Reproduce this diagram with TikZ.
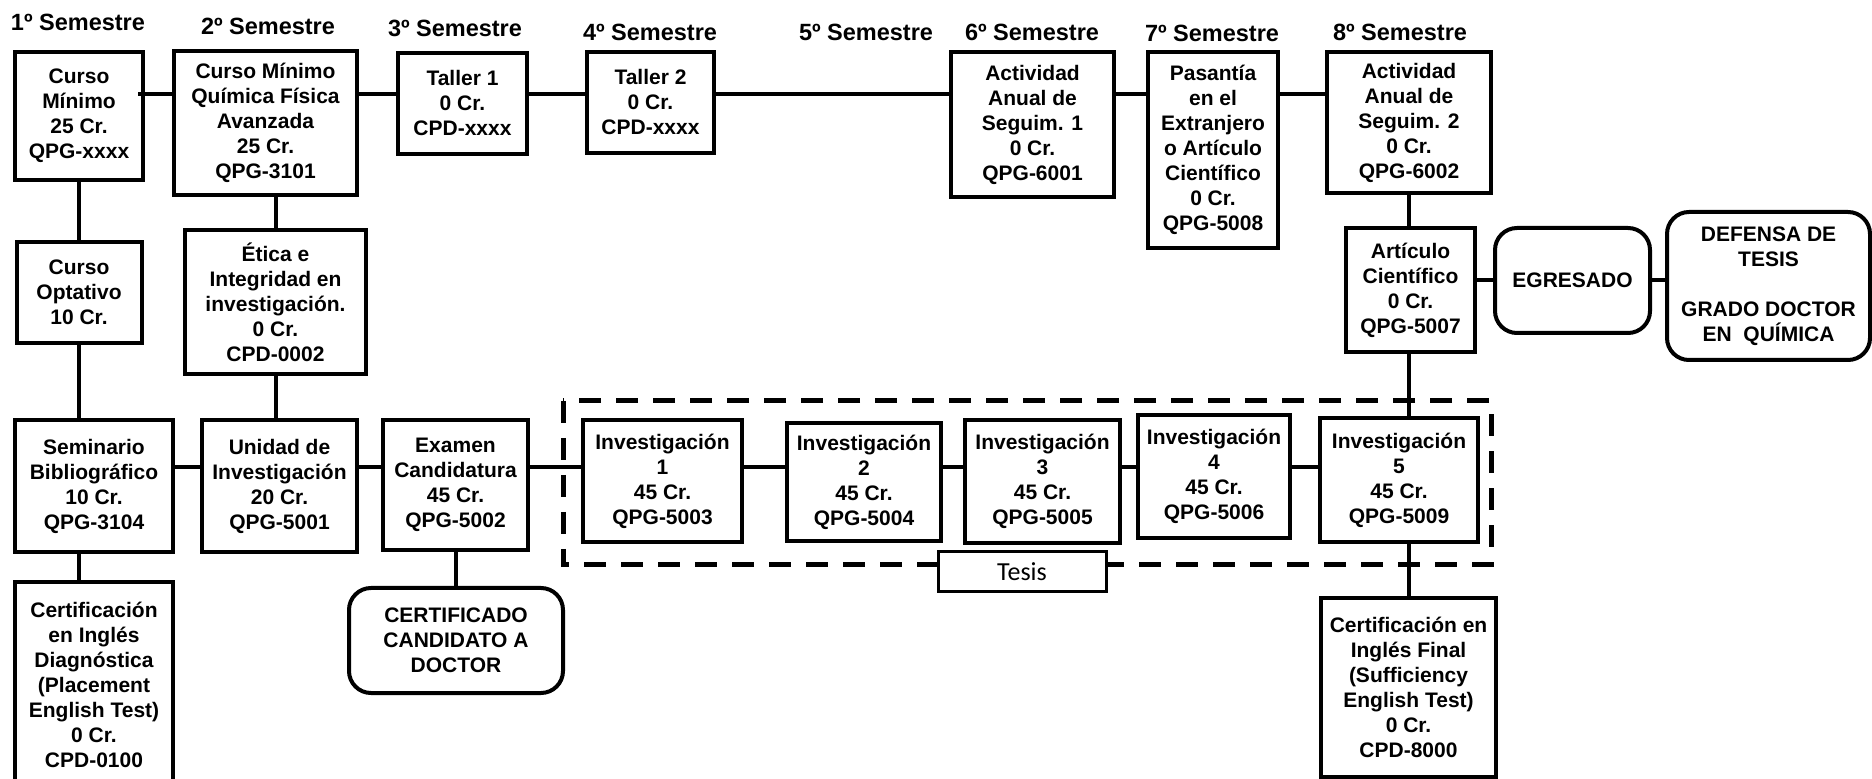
\documentclass[tikz,border=0pt]{standalone}
\usepackage{fontspec}
\setmainfont{Liberation Sans}
\newfontfamily\tesisfont{Carlito}

\tikzset{
  curso/.style={draw, line width=2pt, align=center, inner sep=0pt, fill=white,
    font=\bfseries\fontsize{10.5}{12.5}\selectfont},
  hito/.style={curso, rounded corners=11pt},
  semestre/.style={font=\bfseries\fontsize{11.75}{14}\selectfont},
  tam/.style 2 args={minimum width=#1*0.5pt, minimum height=#2*0.5pt},
  enlace/.style={line width=2pt},
}

\begin{document}
\begin{tikzpicture}[x=0.5pt, y=-0.5pt]
\useasboundingbox (0,0) rectangle (1872,779);

% Semestres
\foreach \n/\x/\y in {1/78/22, 2/268/26, 3/455/28, 4/650/32, 5/866/32, 6/1032/32, 7/1212/33, 8/1400/32}
  \node[semestre] (s\n) at (\x,\y) {\n{}º Semestre};

% Marco de la tesis
\draw[line width=2.5pt, dash pattern=on 11pt off 7.5pt] (563,401) rectangle (1491,565);
\node[draw, line width=1.5pt, fill=white, inner sep=0pt, tam={168}{40},
  font=\tesisfont\fontsize{13}{15}\selectfont] (tesis) at (1022,572) {Tesis};

% Fila superior
\node[curso, tam={128}{128}] (cmin) at (79,116) {Curso\\Mínimo\\25 Cr.\\QPG-xxxx};
\node[curso, tam={183}{144}] (cmqf) at (265.5,123) {Curso Mínimo\\Química Física\\Avanzada\\25 Cr.\\QPG-3101};
\node[curso, tam={129}{101}] (tall1) at (462.5,103.5) {Taller 1\\0 Cr.\\CPD-xxxx};
\node[curso, tam={127}{101}] (tall2) at (650.5,102.5) {Taller 2\\0 Cr.\\CPD-xxxx};
\node[curso, tam={163}{145}] (aas1) at (1032.5,124.5) {Actividad\\Anual de\\Seguim. 1\\0 Cr.\\QPG-6001};
\node[curso, tam={130}{196}] (pext) at (1213,150) {Pasantía\\en el\\Extranjero\\o Artículo\\Científico\\0 Cr.\\QPG-5008};
\node[curso, tam={164}{141}] (aas2) at (1409,122.5) {Actividad\\Anual de\\Seguim. 2\\0 Cr.\\QPG-6002};

% Fila media
\node[curso, tam={125}{101}] (copt) at (79,292.5) {Curso\\Optativo\\10 Cr.};
\node[curso, tam={181}{144}] (etic) at (275.5,302) {Ética e\\Integridad en\\investigación.\\0 Cr.\\CPD-0002};
\node[curso, tam={129}{124}] (acie) at (1410.5,290) {Artículo\\Científico\\0 Cr.\\QPG-5007};
\node[hito, tam={155}{105}] (egre) at (1572.5,280.5) {EGRESADO};
\node[hito, tam={203}{148}] (dtes) at (1768.5,286) {DEFENSA DE\\TESIS\\[12.5pt]GRADO DOCTOR\\EN~~QUÍMICA};

% Fila inferior
\node[curso, tam={158}{132}] (sbib) at (94,486) {Seminario\\Bibliográfico\\10 Cr.\\QPG-3104};
\node[curso, tam={155}{132}] (uinv) at (279.5,486) {Unidad de\\Investigación\\20 Cr.\\QPG-5001};
\node[curso, tam={145}{130}] (ecan) at (455.5,485) {Examen\\Candidatura\\45 Cr.\\QPG-5002};
\node[curso, tam={159}{122}] (inv1) at (662.5,481) {Investigación\\1\\45 Cr.\\QPG-5003};
\node[curso, tam={154}{118}] (inv2) at (864,482) {Investigación\\2\\45 Cr.\\QPG-5004};
\node[curso, tam={155}{123}] (inv3) at (1042.5,481.5) {Investigación\\3\\45 Cr.\\QPG-5005};
\node[curso, tam={152}{123}] (inv4) at (1214,476.5) {Investigación\\4\\45 Cr.\\QPG-5006};
\node[curso, tam={158}{124}] (inv5) at (1399,480) {Investigación\\5\\45 Cr.\\QPG-5009};

% Certificaciones
\node[curso, tam={158}{206}] (cing) at (94,685) {Certificación\\en Inglés\\Diagnóstica\\(Placement\\English Test)\\0 Cr.\\CPD-0100};
\node[hito, tam={214}{105}] (ccan) at (456,640.5) {CERTIFICADO\\CANDIDATO A\\DOCTOR};
\node[curso, tam={175}{179}] (cfin) at (1408.5,687.5) {Certificación en\\Inglés Final\\(Sufficiency\\English Test)\\0 Cr.\\CPD-8000};

% Conexiones
\coordinate (filasup) at (0,94);
\coordinate (filainf) at (0,467);
\draw[enlace] (cmin.east |- filasup) ++(-7,0) -- (cmqf.west |- filasup);
\foreach \a/\b in {cmqf/tall1, tall1/tall2, tall2/aas1, aas1/pext, pext/aas2}
  \draw[enlace] (\a.east |- filasup) -- (\b.west |- filasup);
\foreach \a/\b in {sbib/uinv, uinv/ecan, ecan/inv1, inv1/inv2, inv2/inv3, inv3/inv4, inv4/inv5}
  \draw[enlace] (\a.east |- filainf) -- (\b.west |- filainf);
\draw[enlace] (cmin.south) -- (cmin.south |- copt.north);
\draw[enlace] (copt.south) -- (copt.south |- sbib.north);
\draw[enlace] (copt.south |- sbib.south) -- (copt.south |- cing.north);
\draw[enlace] (etic.north) -- (etic.north |- cmqf.south);
\draw[enlace] (etic.south) -- (etic.south |- uinv.north);
\draw[enlace] (ecan.south) -- (ecan.south |- ccan.north);
\draw[enlace] (aas2.south) -- (aas2.south |- acie.north);
\draw[enlace] (aas2.south |- acie.south) -- (aas2.south |- inv5.north);
\draw[enlace] (aas2.south |- inv5.south) -- (aas2.south |- cfin.north);
\draw[enlace] (acie.east |- egre.west) -- (egre.west);
\draw[enlace] (egre.east) -- (dtes.west |- egre.east);
\end{tikzpicture}
\end{document}
